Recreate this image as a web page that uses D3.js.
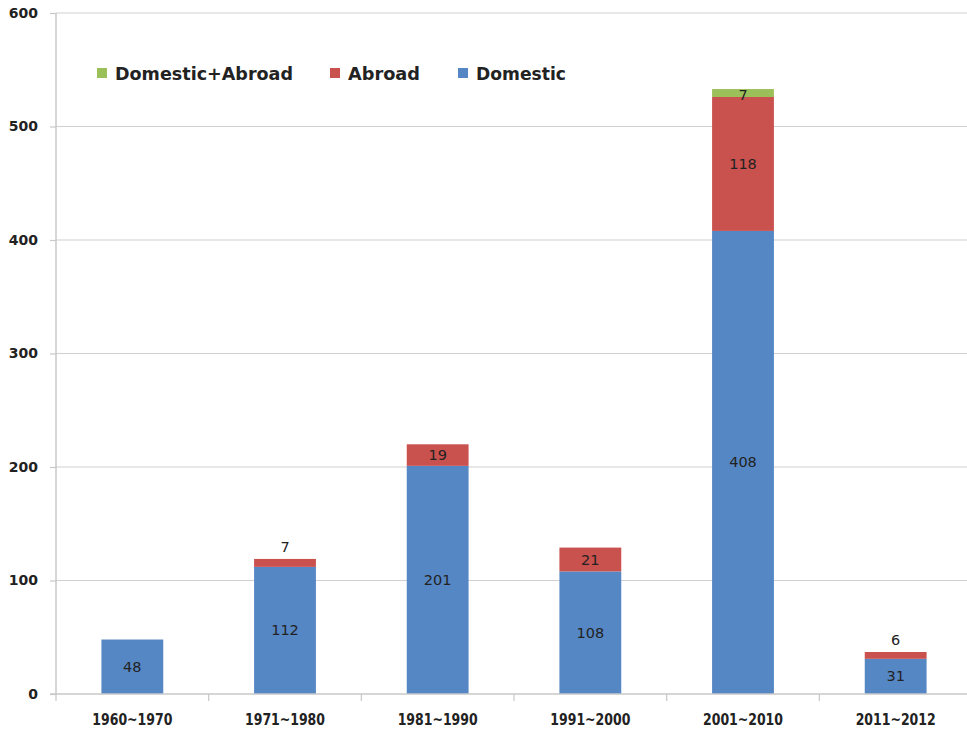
<!DOCTYPE html>
<html><head><meta charset="utf-8">
<script src="https://cdn.jsdelivr.net/npm/d3@7"></script>
<style>body{margin:0;background:#fff;} svg{display:block;}</style>
</head><body>
<svg id="c" width="967" height="734"></svg>
<script>
const categories = ["1960~1970","1971~1980","1981~1990","1991~2000","2001~2010","2011~2012"];
const domestic = [48,112,201,108,408,31];
const abroad = [0,7,19,21,118,6];
const both = [0,0,0,0,7,0];
const yTicks = [0,100,200,300,400,500,600];
const seriesNames = ["Domestic","Abroad","Domestic+Abroad"];
const colors = {"Domestic":"#5687c5","Abroad":"#c9514e","Domestic+Abroad":"#9bc059"};
// label placement: "in" = centered in segment, "above" = above bar top
const abroadLabelPos = ["none","above","in","in","in","above"];

const svg = d3.select("#c");
const L = 56, R = 972, T = 13, B = 694;
const x = d3.scaleBand().domain(categories).range([L,R]).paddingInner(0.595).paddingOuter(0.2975);
const y = d3.scaleLinear().domain([0,600]).range([B,T]);

// gridlines
svg.append("g").selectAll("line").data(yTicks.slice(1)).join("line")
  .attr("x1",L).attr("x2",967).attr("y1",d=>y(d)).attr("y2",d=>y(d))
  .attr("stroke","#d0d0d0").attr("stroke-width",1.2);

const data = categories.map((c,i)=>({cat:c,"Domestic":domestic[i],"Abroad":abroad[i],"Domestic+Abroad":both[i],i}));
const stack = d3.stack().keys(seriesNames)(data);

svg.append("g").selectAll("g").data(stack).join("g").attr("fill",d=>colors[d.key])
  .selectAll("rect").data(d=>d.filter(p=>p[1]-p[0]>0)).join("rect")
  .attr("x",d=>x(d.data.cat)).attr("width",x.bandwidth())
  .attr("y",d=>y(d[1])).attr("height",d=>y(d[0])-y(d[1]));

// axes
const yAxis = svg.append("g").attr("transform",`translate(${L},0)`)
  .call(d3.axisLeft(y).tickValues(yTicks).tickSize(6).tickPadding(12));
yAxis.select(".domain").attr("stroke","#c8c8c8").attr("stroke-width",1.5).attr("d",`M0,${B}V${T}`);
yAxis.selectAll(".tick line").attr("stroke","#c8c8c8").attr("stroke-width",1.2);
yAxis.selectAll(".tick text").attr("font-family","DejaVu Sans").attr("font-weight","bold")
  .attr("font-size",14).attr("fill","#222");

const xAxis = svg.append("g").attr("transform",`translate(0,${B})`);
xAxis.append("line").attr("x1",L-6).attr("x2",967).attr("y1",0).attr("y2",0).attr("stroke","#c8c8c8").attr("stroke-width",1.5);
const step = x.step();
const boundaries = d3.range(categories.length).map(i=>x(categories[i]) - (step - x.bandwidth())/2);
xAxis.selectAll("line.tk").data(boundaries).join("line").attr("class","tk")
  .attr("x1",d=>d).attr("x2",d=>d).attr("y1",0).attr("y2",7).attr("stroke","#c8c8c8").attr("stroke-width",1.2);
xAxis.selectAll("text").data(categories).join("text")
  .attr("x",d=>x(d)+x.bandwidth()/2).attr("y",31).attr("text-anchor","middle")
  .attr("font-family","DejaVu Sans Condensed, DejaVu Sans").attr("font-weight","bold")
  .attr("font-size",15).attr("fill","#222").attr("textLength",80).attr("lengthAdjust","spacingAndGlyphs").text(d=>d);

// value labels
const lab = svg.append("g").attr("font-family","DejaVu Sans").attr("font-size",14.5).attr("fill","#222").attr("text-anchor","middle");
data.forEach((d,i)=>{
  const cx = x(d.cat)+x.bandwidth()/2;
  lab.append("text").attr("x",cx).attr("y",y(d.Domestic/2)+5).text(d.Domestic);
  if(abroadLabelPos[i]==="in") lab.append("text").attr("x",cx).attr("y",y(d.Domestic+d.Abroad/2)+5).text(d.Abroad);
  else if(abroadLabelPos[i]==="above") lab.append("text").attr("x",cx).attr("y",y(d.Domestic+d.Abroad)-7).text(d.Abroad);
  if(d["Domestic+Abroad"]>0) lab.append("text").attr("x",cx).attr("y",y(d.Domestic+d.Abroad+d["Domestic+Abroad"]/2)+7).text(d["Domestic+Abroad"]);
});

// legend
const legendItems = [{k:"Domestic+Abroad",x:97,w:178},{k:"Abroad",x:330,w:72},{k:"Domestic",x:458,w:90}];
const lg = svg.append("g");
legendItems.forEach(it=>{
  lg.append("rect").attr("x",it.x).attr("y",68).attr("width",10).attr("height",10).attr("fill",colors[it.k]);
  lg.append("text").attr("x",it.x+18).attr("y",80).attr("font-family","DejaVu Sans").attr("font-weight","bold")
    .attr("font-size",17).attr("fill","#222").attr("textLength",it.w).attr("lengthAdjust","spacingAndGlyphs").text(it.k);
});
</script>
</body></html>
